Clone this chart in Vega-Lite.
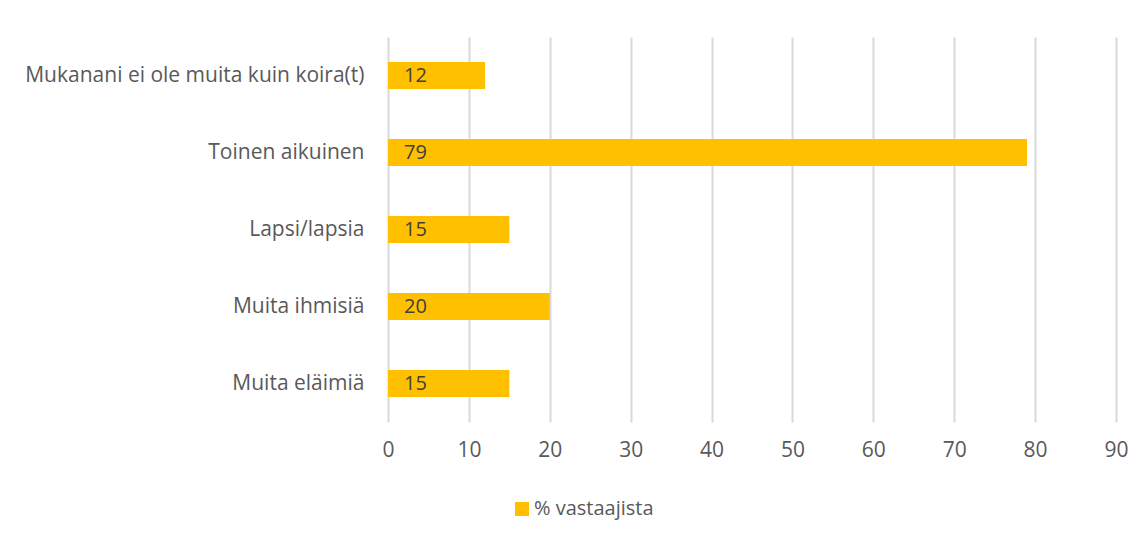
{
  "$schema": "https://vega.github.io/schema/vega-lite/v6.json",
  "width": 728,
  "height": 385,
  "autosize": {"type": "none"},
  "padding": {"left": 388, "top": 37, "right": 29, "bottom": 116},
  "background": "white",
  "config": {
    "font": "Open Sans",
    "view": {"stroke": null}
  },
  "data": {
    "values": [
      {"kategoria": "Mukanani ei ole muita kuin koira(t)", "arvo": 12, "sarja": "% vastaajista"},
      {"kategoria": "Toinen aikuinen", "arvo": 79, "sarja": "% vastaajista"},
      {"kategoria": "Lapsi/lapsia", "arvo": 15, "sarja": "% vastaajista"},
      {"kategoria": "Muita ihmisiä", "arvo": 20, "sarja": "% vastaajista"},
      {"kategoria": "Muita eläimiä", "arvo": 15, "sarja": "% vastaajista"}
    ]
  },
  "encoding": {
    "y": {
      "field": "kategoria",
      "type": "nominal",
      "sort": null,
      "scale": {"paddingInner": 0.65, "paddingOuter": 0.325},
      "axis": {
        "title": null,
        "domain": false,
        "ticks": false,
        "labelPadding": 24,
        "labelFontSize": 21,
        "labelColor": "#595959",
        "labelLimit": 400
      }
    }
  },
  "layer": [
    {
      "mark": {"type": "bar", "color": "#FFC000"},
      "encoding": {
        "x": {
          "field": "arvo",
          "type": "quantitative",
          "scale": {"domain": [0, 90], "nice": false},
          "axis": {
            "title": null,
            "values": [0, 10, 20, 30, 40, 50, 60, 70, 80, 90],
            "domain": false,
            "ticks": false,
            "grid": true,
            "gridColor": "#d9d9d9",
            "gridWidth": 2,
            "labelFlush": false,
            "labelPadding": 17,
            "labelFontSize": 21,
            "labelColor": "#595959"
          }
        },
        "color": {
          "field": "sarja",
          "type": "nominal",
          "scale": {"range": ["#FFC000"]},
          "legend": {
            "title": null,
            "orient": "none",
            "legendX": 124,
            "legendY": 462,
            "symbolType": "square",
            "symbolSize": 196,
            "symbolStrokeWidth": 0,
            "labelFontSize": 20,
            "labelColor": "#595959",
            "labelOffset": 2
          }
        }
      }
    },
    {
      "mark": {"type": "text", "align": "left", "dx": 16, "fontSize": 20, "color": "#404040"},
      "encoding": {
        "x": {"datum": 0, "type": "quantitative"},
        "text": {"field": "arvo", "type": "quantitative"}
      }
    }
  ]
}
